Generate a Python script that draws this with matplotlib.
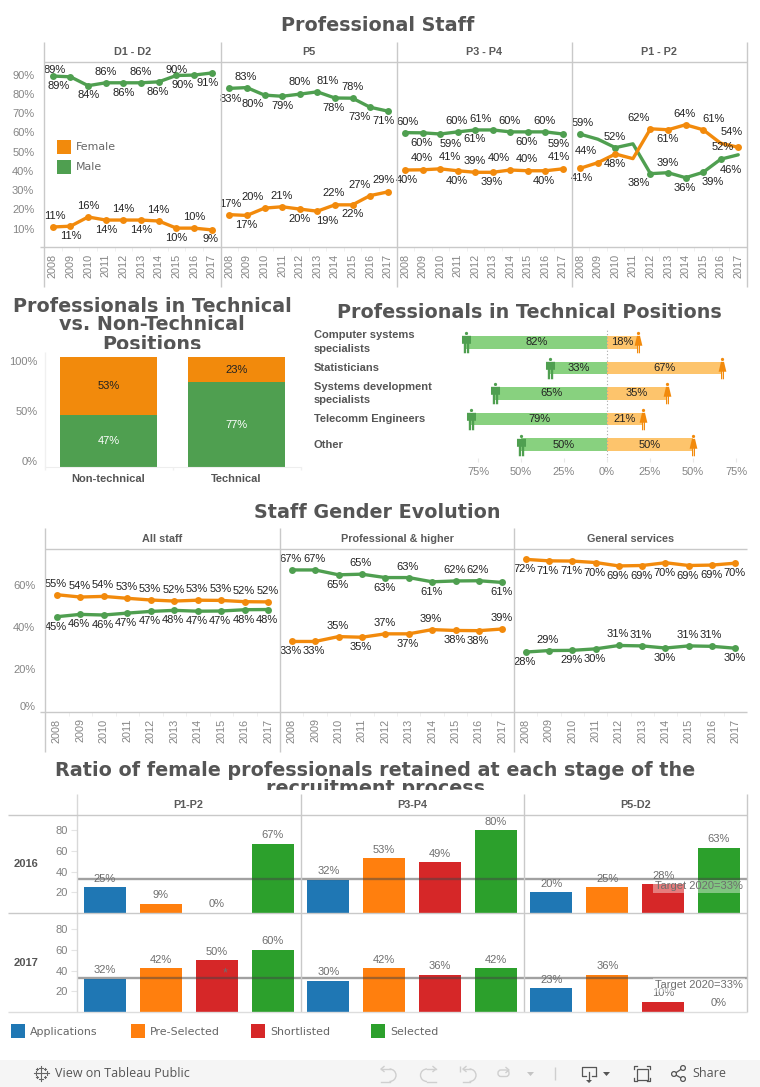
import matplotlib
matplotlib.use("Agg")
import matplotlib.pyplot as plt
from matplotlib.path import Path
from matplotlib.patches import Rectangle, Circle, Arc, FancyBboxPatch

W, H = 760, 1087
ORANGE, GREEN = "#f28a0c", "#4f9f50"
FRAME = "#c9c9c9"
SANS = "Liberation Sans"
TITLE_C = "#555555"
TITLE_FS = 13.8
LABEL_FS = 8.0

YEARS = [2008, 2009, 2010, 2011, 2012, 2013, 2014, 2015, 2016, 2017]

# ---------- Professional Staff ----------
GRADES = ["D1 - D2", "P5", "P3 - P4", "P1 - P2"]
MALE = [
    [89.2, 88.8, 84.2, 85.7, 85.7, 85.7, 86.2, 89.5, 89.7, 90.8],
    [82.8, 83.2, 79.3, 78.7, 79.8, 81.0, 77.8, 77.7, 73.0, 71.0],
    [59.8, 59.7, 59.1, 60.2, 61.2, 61.2, 60.2, 60.2, 60.2, 59.1],
    [59.0, 56.4, 52.0, 54.0, 38.5, 39.0, 36.4, 39.2, 46.0, 48.3],
]
FEMALE = [
    [10.8, 11.2, 16.0, 14.4, 14.4, 14.4, 13.9, 10.2, 10.2, 9.3],
    [17.2, 16.8, 20.6, 21.3, 20.1, 19.0, 22.3, 22.3, 27.1, 29.0],
    [40.4, 40.5, 41.0, 40.0, 39.2, 39.2, 40.4, 40.0, 40.0, 41.0],
    [41.3, 44.2, 48.7, 46.3, 61.8, 61.3, 63.9, 61.3, 54.3, 52.2],
]
MALE_LABELS = [
    [89, 89, 84, 86, 86, 86, 86, 90, 90, 91],
    [83, 83, 80, 79, 80, 81, 78, 78, 73, 71],
    [60, 60, 59, 60, 61, 61, 60, 60, 60, 59],
    [59, None, 52, None, 38, 39, 36, 39, None, 46],
]
FEMALE_LABELS = [
    [11, 11, 16, 14, 14, 14, 14, 10, 10, 9],
    [17, 17, 20, 21, 20, 19, 22, 22, 27, 29],
    [40, 40, 41, 40, 39, 39, 40, 40, 40, 41],
    [41, 44, 48, None, 62, 61, 64, 61, 54, 52],
]
# label nudges (px): dx, dy per point
MALE_DX = [[2,-12,0,0,0,0,-1,0,-11,-4],[1,-1,-12,0,0,10,-1,0,-11,-4],
           [2,-1,10,-1,-1,-12,-1,-1,-1,-4],[2,0,-1,0,-12,0,-1,10,0,-7]]
MALE_DY = [[-6,9,9,-11,10,-11,10,-5,10,10],[11,-11,9,10,-12,-11,10,-11,10,10],
           [-11,10,10,-11,9,-11,-11,10,-11,10],[-11,0,-11,0,9,-10,10,10,0,15]]
FEMALE_DX = [[2,0,0,0,0,0,-1,0,0,-1],[1,-1,-12,0,0,10,-1,0,-11,-4],
             [2,-1,10,-1,-1,-1,-11,-1,-1,-4],[2,-12,-1,0,-12,0,-1,10,11,-16]]
FEMALE_DY = [[-11,10,-11,10,-11,10,-11,10,-11,9],[-11,10,-11,-11,10,10,-12,9,-11,-12],
             [10,-12,-12,10,-11,10,-12,-12,10,-12],[10,-12,10,0,-11,9,-11,-11,-11,0]]
# points without a visible dot in the P1 - P2 pane
MALE_DOTS_P1 = [0, 2, 4, 5, 6, 7, 8]
FEMALE_DOTS_P1 = [0, 1, 2, 4, 5, 6, 7, 9]

# ---------- Technical vs non-technical ----------
TECH_CATS = ["Non-technical", "Technical"]
TECH_MALE = [47, 77]
TECH_FEMALE = [53, 23]

# ---------- Technical positions ----------
POSITIONS = ["Computer systems\nspecialists", "Statisticians",
             "Systems development\nspecialists", "Telecomm Engineers", "Other"]
POS_MALE = [82, 33, 65, 79, 50]
POS_FEMALE = [18, 67, 35, 21, 50]
POS_TICKS = [-75, -50, -25, 0, 25, 50, 75]
POS_TICK_LABELS = ["75%", "50%", "25%", "0%", "25%", "50%", "75%"]

# ---------- Staff Gender Evolution ----------
GROUPS = ["All staff", "Professional & higher", "General services"]
EVO_F = [
    [55.2, 54.1, 54.4, 53.5, 52.7, 52.2, 52.6, 52.5, 51.9, 51.8],
    [33.1, 33.1, 35.4, 35.1, 36.7, 36.7, 38.7, 38.3, 38.2, 39.0],
    [71.9, 71.2, 71.1, 70.4, 68.8, 69.0, 70.3, 69.0, 69.2, 70.1],
]
EVO_M = [
    [44.8, 45.9, 45.6, 46.5, 47.3, 47.8, 47.4, 47.5, 48.1, 48.2],
    [66.9, 66.9, 64.6, 64.9, 63.3, 63.3, 61.3, 61.7, 61.8, 61.0],
    [28.1, 28.8, 28.9, 29.6, 31.2, 31.0, 30.0, 31.0, 30.8, 29.9],
]
EVO_F_LABELS = [
    [55, 54, 54, 53, 53, 52, 53, 53, 52, 52],
    [33, 33, 35, 35, 37, 37, 39, 38, 38, 39],
    [72, 71, 71, 70, 69, 69, 70, 69, 69, 70],
]
EVO_M_LABELS = [
    [45, 46, 46, 47, 47, 48, 47, 47, 48, 48],
    [67, 67, 65, 65, 63, 63, 61, 62, 62, 61],
    [28, 29, 29, 30, 31, 31, 30, 31, 31, 30],
]
EVO_F_SIDE = ["aaaaaaaaaa", "bbabababba", "bbbbbbbbbb"]
EVO_M_SIDE = ["bbbbbbbbbb", "aabababaab", "babbaabaab"]

# ---------- Recruitment ----------
STAGES = ["Applications", "Pre-Selected", "Shortlisted", "Selected"]
STAGE_COLORS = ["#1f77b4", "#ff7f0e", "#d62728", "#2ca02c"]
LEVELS = ["P1-P2", "P3-P4", "P5-D2"]
ROW_YEARS = ["2016", "2017"]
RATIOS = {
    "2016": [[25, 9, 0, 67], [32, 53, 49, 80], [20, 25, 28, 63]],
    "2017": [[32, 42, 50, 60], [30, 42, 36, 42], [23, 36, 10, 0]],
}
TARGET = 33

plt.rcParams["font.family"] = [SANS, "DejaVu Sans"]
fig = plt.figure(figsize=(W / 100, H / 100), dpi=100, facecolor="white")


def axpx(x0, y0, x1, y1, **kw):
    ax = fig.add_axes([x0 / W, 1 - y1 / H, (x1 - x0) / W, (y1 - y0) / H], **kw)
    ax.patch.set_alpha(0)
    return ax


bg = axpx(0, 0, W, H)
bg.set_xlim(0, W)
bg.set_ylim(H, 0)
bg.axis("off")


def vline(x, y0, y1, c=FRAME, lw=1.0):
    bg.plot([x, x], [y0, y1], color=c, lw=lw, solid_capstyle="butt")


def hline(y, x0, x1, c=FRAME, lw=1.0):
    bg.plot([x0, x1], [y, y], color=c, lw=lw, solid_capstyle="butt")


def title(x, y, s, clip=None):
    t = bg.text(x, y, s, family="DejaVu Sans", weight="bold", fontsize=TITLE_FS,
                color=TITLE_C, ha="center", va="center", linespacing=1.0)
    if clip is not None:
        t.set_clip_on(True)
        t.set_clip_path(Rectangle((0, 0), W, clip, transform=bg.transData))
    return t


def label(ax, x, y, txt, dx, dy, c="#222222", fs=LABEL_FS):
    ax.annotate(txt, (x, y), xytext=(dx * 0.72, -dy * 0.72), textcoords="offset points",
                ha="center", va="center", color=c, fontsize=fs, clip_on=False,
                annotation_clip=False, zorder=6)


def series(ax, vals, color, dots=None):
    xs = list(range(len(vals)))
    ax.plot(xs, vals, color=color, lw=2.4, solid_capstyle="round", solid_joinstyle="round", zorder=4)
    idx = xs if dots is None else dots
    ax.plot(idx, [vals[i] for i in idx], ls="none", marker="o", ms=5, color=color, mew=0, zorder=5)


def year_axis(ax):
    ax.set_xlim(-0.5, 9.5)
    ax.set_xticks(range(10))
    ax.set_xticklabels(YEARS, rotation=90, color="#858585", fontsize=7.8)
    ax.tick_params(axis="x", length=0, pad=5)
    ax.set_xticks([i + 0.5 for i in range(9)], minor=True)
    ax.tick_params(axis="x", which="minor", length=3, color="#eeeeee")
    for s in ax.spines.values():
        s.set_visible(False)


# ===== Professional Staff =====
title(377.5, 25.5, "Professional Staff")
edges = [44, 220.5, 396.5, 571.5, 747]
for x in edges:
    vline(x, 42, 287)
hline(62, 44, 747)
hline(247, 40, 747)
for i, g in enumerate(GRADES):
    bg.text((edges[i] + edges[i + 1]) / 2, 52, g, weight="bold", color="#5a5a5a", fontsize=7.8,
            ha="center", va="center")
    ax = axpx(edges[i], 62, edges[i + 1], 247)
    ax.set_ylim(0.4, 96.5)
    year_axis(ax)
    series(ax, MALE[i], GREEN, MALE_DOTS_P1 if i == 3 else None)
    series(ax, FEMALE[i], ORANGE, FEMALE_DOTS_P1 if i == 3 else None)
    for j in range(10):
        if MALE_LABELS[i][j] is not None:
            label(ax, j, MALE[i][j], f"{MALE_LABELS[i][j]}%", MALE_DX[i][j], MALE_DY[i][j])
        if FEMALE_LABELS[i][j] is not None:
            label(ax, j, FEMALE[i][j], f"{FEMALE_LABELS[i][j]}%", FEMALE_DX[i][j], FEMALE_DY[i][j])
    if i == 0:
        ax.set_yticks(range(10, 100, 10))
        ax.set_yticklabels([f"{v}%" for v in range(10, 100, 10)], color="#858585", fontsize=LABEL_FS)
        ax.tick_params(axis="y", length=0, pad=7)
    else:
        ax.set_yticks([])

for y, c, s in [(140, ORANGE, "Female"), (160, GREEN, "Male")]:
    bg.add_patch(Rectangle((57, y), 14, 14, color=c, lw=0))
    bg.text(76, y + 7.5, s, family="DejaVu Sans", color="#666666", fontsize=7.9, va="center")

# ===== Technical vs Non-Technical =====
title(152, 325, "Professionals in Technical\nvs. Non-Technical\nPositions", clip=349)
ax = axpx(44.5, 357, 300.5, 467)
ax.set_xlim(-0.5, 1.5)
ax.set_ylim(0, 100)
ax.bar(range(2), TECH_MALE, 0.755, color=GREEN)
ax.bar(range(2), TECH_FEMALE, 0.755, bottom=TECH_MALE, color=ORANGE)
for i in range(2):
    ax.text(i, TECH_MALE[i] / 2, f"{TECH_MALE[i]}%", color="white", ha="center", va="center", fontsize=LABEL_FS)
    ax.text(i, TECH_MALE[i] + TECH_FEMALE[i] / 2, f"{TECH_FEMALE[i]}%", color="#222222", ha="center",
            va="center", fontsize=LABEL_FS)
ax.set_xticks(range(2))
ax.set_xticklabels(TECH_CATS, weight="bold", color="#555555", fontsize=LABEL_FS)
ax.tick_params(axis="x", length=0, pad=5)
ax.set_yticks([0, 50, 100])
ax.set_yticklabels(["0%", "50%", "100%"], color="#858585", fontsize=LABEL_FS)
for t, v in zip(ax.get_yticklabels(), ["bottom", "center", "top"]):
    t.set_verticalalignment(v)
ax.tick_params(axis="y", length=0, pad=5)
for s in ["top", "right", "left"]:
    ax.spines[s].set_visible(False)
ax.spines["bottom"].set_color("#eeeeee")
vline(44.5, 352, 470, c="#f0f0f0")
vline(172.5, 467, 470, c="#f0f0f0")
vline(300.5, 467, 470, c="#f0f0f0")

# ===== Technical Positions =====
title(529, 312.5, "Professionals in Technical Positions")
MAN = Path.make_compound_path(
    Path.circle((0, 0.84), 0.15),
    Path([(-0.42, 0.62), (0.42, 0.62), (0.42, -0.12), (0.25, -0.12), (0.25, -1), (0.04, -1), (0.04, -0.12),
          (-0.04, -0.12), (-0.04, -1), (-0.25, -1), (-0.25, -0.12), (-0.42, -0.12), (-0.42, 0.62)], closed=True),
)
WOMAN = Path.make_compound_path(
    Path.circle((0, 0.84), 0.15),
    Path([(-0.14, 0.62), (0.14, 0.62), (0.36, -0.3), (0.14, -0.3), (0.14, -1), (0.03, -1), (0.03, -0.3),
          (-0.03, -0.3), (-0.03, -1), (-0.14, -1), (-0.14, -0.3), (-0.36, -0.3), (-0.14, 0.62)], closed=True),
)
ax = axpx(440, 329.5, 752, 457.5)
ax.set_xlim((440 - 607) / 1.72, (752 - 607) / 1.72)
ax.set_ylim(4.5, -0.5)
ys = list(range(5))
ax.barh(ys, [-v for v in POS_MALE], 0.5, color="#88d17f")
ax.barh(ys, POS_FEMALE, 0.5, color="#fdc46c")
ax.axvline(0, color="#aaaaaa", lw=0.8, ls=(0, (1, 2)), zorder=1)
ax.plot([-v for v in POS_MALE], ys, ls="none", marker=MAN, ms=15.5, color=GREEN, mew=0, zorder=5, clip_on=False)
ax.plot(POS_FEMALE, ys, ls="none", marker=WOMAN, ms=15.5, color=ORANGE, mew=0, zorder=5, clip_on=False)
for i in ys:
    ax.text(-POS_MALE[i] / 2, i, f"{POS_MALE[i]}%", ha="center", va="center", color="#222222", fontsize=LABEL_FS)
    ax.text(POS_FEMALE[i] / 2, i, f"{POS_FEMALE[i]}%", ha="center", va="center", color="#222222", fontsize=LABEL_FS)
    bg.text(314, 342.3 + i * 25.6, POSITIONS[i], weight="bold", color="#555555", fontsize=8.0, va="center",
            linespacing=1.45)
ax.set_yticks([])
ax.set_xticks(POS_TICKS)
ax.set_xticklabels(POS_TICK_LABELS, color="#858585", fontsize=LABEL_FS)
ax.tick_params(axis="x", length=3, color="#e8e8e8", pad=4)
for s in ax.spines.values():
    s.set_visible(False)

# ===== Staff Gender Evolution =====
title(377, 512, "Staff Gender Evolution")
edges = [45, 280, 514, 747]
for x in edges[:3]:
    vline(x, 528, 752)
hline(549, 45, 747)
hline(711.5, 40, 747)
SIDE = {"a": -11, "b": 10}
for i, g in enumerate(GROUPS):
    bg.text((edges[i] + edges[i + 1]) / 2, 539, g, weight="bold", color="#5a5a5a", fontsize=7.8,
            ha="center", va="center")
    ax = axpx(edges[i], 549, edges[i + 1], 711.5)
    ax.set_ylim(0, 76.8)
    year_axis(ax)
    series(ax, EVO_M[i], GREEN)
    series(ax, EVO_F[i], ORANGE)
    for j in range(10):
        label(ax, j, EVO_F[i][j], f"{EVO_F_LABELS[i][j]}%", -1, SIDE[EVO_F_SIDE[i][j]])
        label(ax, j, EVO_M[i][j], f"{EVO_M_LABELS[i][j]}%", -1, SIDE[EVO_M_SIDE[i][j]])
    if i == 0:
        ax.set_yticks([0, 20, 40, 60])
        ax.set_yticklabels(["0%", "20%", "40%", "60%"], color="#858585", fontsize=LABEL_FS)
        ax.get_yticklabels()[0].set_verticalalignment("bottom")
        ax.tick_params(axis="y", length=0, pad=7)
    else:
        ax.set_yticks([])

# ===== Recruitment =====
title(375, 779.5, "Ratio of female professionals retained at each stage of the\nrecruitment process", clip=790)
edges = [76.5, 300.5, 523.5, 747]
rows = [(814.5, 913), (913, 1012)]
vline(76.5, 794, 1012, c="#d8d8d8")
for x in edges[1:]:
    vline(x, 794, 1012)
hline(814.5, 8, 747)
hline(913, 8, 747)
hline(1012, 8, 747, c="#dddddd")
for i, lv in enumerate(LEVELS):
    bg.text((edges[i] + edges[i + 1]) / 2, 804.5, lv, weight="bold", color="#5a5a5a", fontsize=7.8,
            ha="center", va="center")
for r, yr in enumerate(ROW_YEARS):
    top, bot = rows[r]
    bg.text(26, (top + bot) / 2 + 0.5, yr, weight="bold", color="#555555", fontsize=LABEL_FS, ha="center", va="center")
    for i in range(3):
        ax = axpx(edges[i], top, edges[i + 1], bot)
        ax.set_xlim(-0.5, 3.5)
        ax.set_ylim(0, 95.5)
        vals = RATIOS[yr][i]
        ax.bar(range(4), vals, 0.75, color=STAGE_COLORS, zorder=2)
        ax.axhline(TARGET, color="#444444", alpha=0.5, lw=1.7, zorder=3)
        for j, v in enumerate(vals):
            ax.annotate(f"{v}%", (j, v), xytext=(0, 6.2), textcoords="offset points", ha="center", va="center",
                        color="#6e6e6e", fontsize=LABEL_FS, zorder=5)
        ax.set_xticks([])
        for s in ax.spines.values():
            s.set_visible(False)
        if i == 0:
            ax.set_yticks([20, 40, 60, 80])
            ax.set_yticklabels([20, 40, 60, 80], color="#808080", fontsize=LABEL_FS)
            ax.tick_params(axis="y", length=4, color="#e4e4e4", pad=2)
        else:
            ax.set_yticks([])
        if i == 2:
            ax.annotate(f"Target 2020={TARGET}%", (3.5, TARGET), xytext=(-3, -5.2), textcoords="offset points",
                        ha="right", va="center", color="#6e6e6e", fontsize=LABEL_FS, zorder=6,
                        bbox=dict(fc="white", ec="none", alpha=0.4, pad=1.2))
bg.text(225, 973, "*", color="#6e6e6e", fontsize=9, ha="center", va="center", zorder=20)
bg.set_zorder(10)

for x, c, s in zip([11, 131, 251, 371], STAGE_COLORS, STAGES):
    bg.add_patch(Rectangle((x, 1024), 14, 14, color=c, lw=0))
    bg.text(x + 19, 1032, s, family="DejaVu Sans", color="#666666", fontsize=7.9, va="center")

# ===== Toolbar =====
bg.add_patch(Rectangle((0, 1060), W, 27, color="#f5f5f5", lw=0))
bg.text(55, 1073.5, "View on Tableau Public", family="Open Sans", color="#555555", fontsize=9, va="center")
for dx, dy, s in [(0, 0, 3.2), (-5.5, 0, 2), (5.5, 0, 2), (0, -5.5, 2), (0, 5.5, 2), (-4, -4, 1.4),
                  (4, -4, 1.4), (-4, 4, 1.4), (4, 4, 1.4)]:
    bg.plot([41 + dx - s, 41 + dx + s], [1073 + dy, 1073 + dy], color="#666666", lw=0.8)
    bg.plot([41 + dx, 41 + dx], [1073 + dy - s, 1073 + dy + s], color="#666666", lw=0.8)
IC = "#cfcfcf"


def hook(x_tip, x_arc, right, head=True):
    t1, t2 = (-90, 90) if right else (90, 270)
    bg.add_patch(Arc((x_arc, 1075.25), 13, 12.5, theta1=t1, theta2=t2, color=IC, lw=1))
    bg.plot([x_tip, x_arc], [1069, 1069], color=IC, lw=1)
    bg.plot([x_tip, x_arc], [1081.5, 1081.5], color=IC, lw=1)
    s = 3 if right else -3
    bg.plot([x_tip + s, x_tip, x_tip + s], [1066.5, 1069, 1071.5], color=IC, lw=1)


hook(381, 389.5, True)
hook(436, 427, False)
hook(463, 469.5, True)
vline(460, 1066, 1072, c=IC)
bg.add_patch(FancyBboxPatch((498, 1070), 11, 6.5, boxstyle="round,pad=0,rounding_size=3", fc="none", ec=IC, lw=1))
bg.plot([506, 509, 506], [1067.5, 1070, 1072.5], color=IC, lw=1)
bg.fill([527, 534, 530.5], [1072, 1072, 1076], color="#c4c4c4", lw=0)
vline(555, 1067, 1080, c=IC)
DK = "#555555"
bg.plot([596, 596, 582, 582, 586], [1076, 1067, 1067, 1076, 1076], color=DK, lw=0.9)
bg.plot([592, 596], [1076, 1076], color=DK, lw=0.9)
bg.plot([589, 589], [1072, 1081], color=DK, lw=0.9)
bg.fill([586, 592, 589], [1080, 1080, 1083], color=DK, lw=0)
bg.fill([603, 610, 606.5], [1072, 1072, 1076], color=DK, lw=0)
bg.add_patch(Rectangle((637, 1068.5), 11, 11, fill=False, ec=DK, lw=0.9))
for cx, cy, sx, sy in [(633.5, 1066, 1, 1), (649.5, 1066, -1, 1), (633.5, 1081, 1, -1), (649.5, 1081, -1, -1)]:
    bg.plot([cx + 3 * sx, cx, cx], [cy, cy, cy + 3 * sy], color=DK, lw=0.9)
bg.plot([683, 674, 683], [1068, 1074, 1079], color=DK, lw=0.9)
for px, py in [(683, 1068), (674, 1074), (683, 1079)]:
    bg.add_patch(Circle((px, py), 2.4, fc="#f5f5f5", ec=DK, lw=0.9, zorder=5))
bg.text(692, 1073.5, "Share", family="Open Sans", color="#555555", fontsize=9, va="center")

bg.set_xlim(0, W)
bg.set_ylim(H, 0)
fig.savefig("out.png", dpi=100, facecolor="white")
